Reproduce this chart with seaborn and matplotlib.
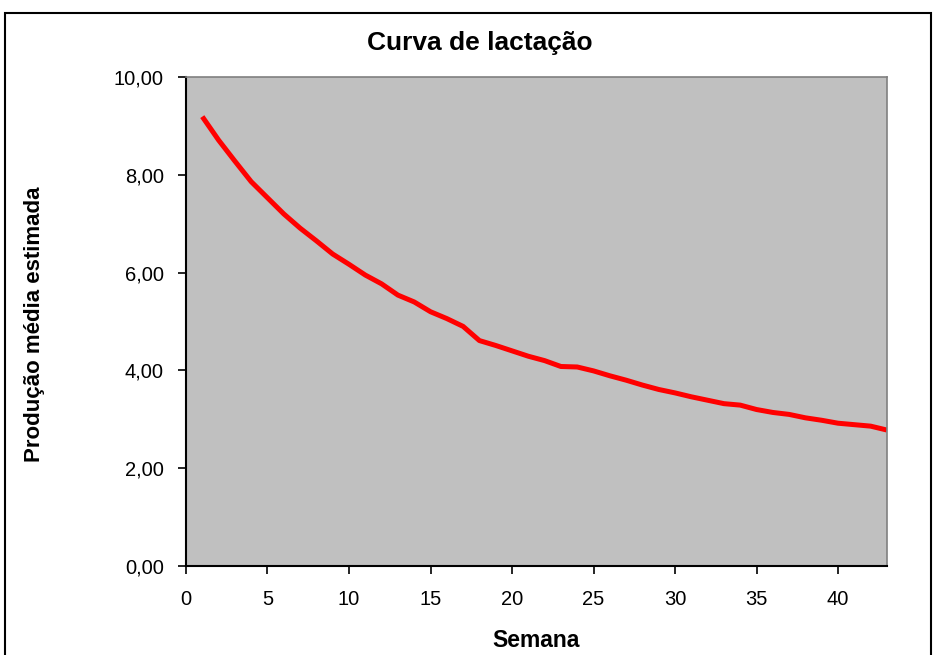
import matplotlib
matplotlib.use("Agg")
import matplotlib.pyplot as plt
from matplotlib.patches import Rectangle
from matplotlib.ticker import FuncFormatter
import pandas as pd
import seaborn as sns

# Estimated mean production per week of lactation
semana = list(range(1, 44))
producao = [9.19, 8.71, 8.28, 7.86, 7.53, 7.20, 6.91, 6.65, 6.38, 6.17,
            5.95, 5.77, 5.54, 5.40, 5.20, 5.06, 4.90, 4.61, 4.51, 4.40,
            4.29, 4.20, 4.08, 4.07, 3.99, 3.89, 3.80, 3.70, 3.61, 3.54,
            3.46, 3.39, 3.32, 3.29, 3.20, 3.14, 3.10, 3.03, 2.98, 2.92,
            2.89, 2.86, 2.78]
x_ticks = [0, 5, 10, 15, 20, 25, 30, 35, 40]
y_ticks = [0, 2, 4, 6, 8, 10]

df = pd.DataFrame({"Semana": semana, "Produção": producao})

sns.set_theme(style="white")
plt.rcParams["font.family"] = ["Liberation Sans", "DejaVu Sans"]
plt.rcParams["text.color"] = "black"

fig = plt.figure(figsize=(9.36, 6.55), dpi=100)
ax = fig.add_axes([0.1987, 0.1359, 0.7489, 0.7465])
ax.set_facecolor("#C0C0C0")

sns.lineplot(data=df, x="Semana", y="Produção", ax=ax, color="#FF0000",
             linewidth=3.6, solid_capstyle="butt")

ax.set_xlim(0, 43)
ax.set_ylim(0, 10)
ax.set_xticks(x_ticks)
ax.set_yticks(y_ticks)
ax.yaxis.set_major_formatter(FuncFormatter(lambda v, p: f"{v:.2f}".replace(".", ",")))
ax.tick_params(axis="both", direction="out", length=6, width=1.2,
               colors="black", labelcolor="black", labelsize=14.5,
               left=True, bottom=True)
ax.tick_params(axis="x", pad=11)
ax.tick_params(axis="y", pad=10)

for side in ("left", "bottom"):
    ax.spines[side].set_color("black")
    ax.spines[side].set_linewidth(1.5)
for side in ("top", "right"):
    ax.spines[side].set_color("#808080")
    ax.spines[side].set_linewidth(1.2)

ax.set_xlabel("")
ax.set_ylabel("")
fig.text(536 / 936, 1 - 647 / 655, "Semana", ha="center", va="baseline",
         fontsize=16.5, fontweight="bold", color="black")
fig.text(35 / 936, 1 - 324 / 655, "Produção média estimada", ha="center",
         va="center", rotation=90, fontsize=16, fontweight="bold", color="black")

fig.text(480 / 936, 1 - 50 / 655, "Curva de lactação", ha="center", va="baseline",
         fontsize=19, fontweight="bold", color="black")

# Chart area frame
fig.patches.append(Rectangle((5 / 936, -0.02), 926 / 936, 1 - 13 / 655 + 0.02,
                             transform=fig.transFigure, fill=False,
                             edgecolor="black", linewidth=1.5))

fig.savefig("out.png", dpi=100)
